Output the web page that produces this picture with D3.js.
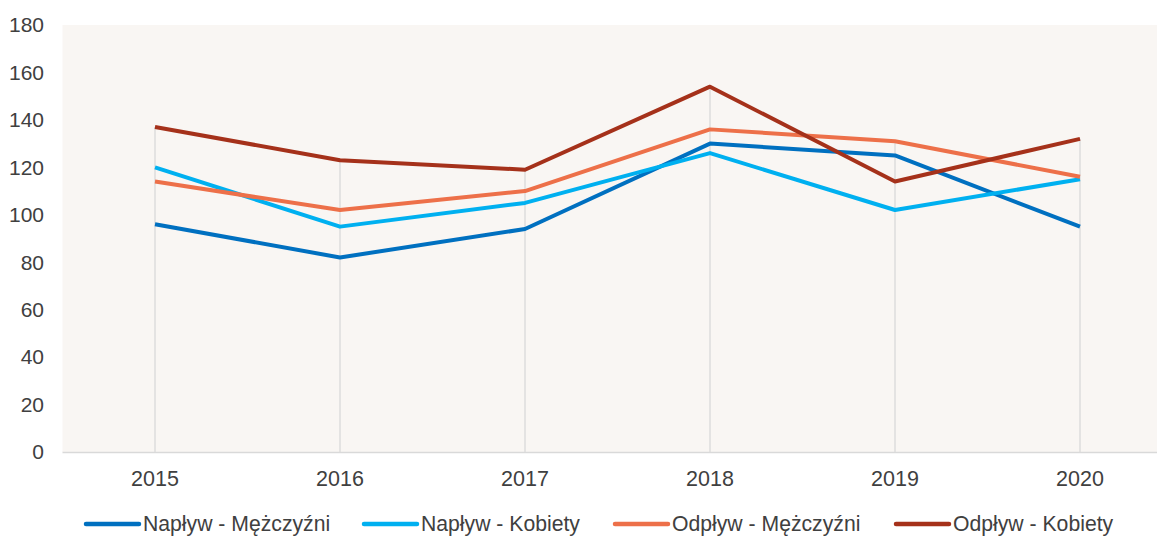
<!DOCTYPE html>
<html>
<head>
<meta charset="utf-8">
<script src="https://cdn.jsdelivr.net/npm/d3@7"></script>
<style>
  body { margin: 0; background: #fff; }
  svg text { font-family: "Liberation Sans", Arial, sans-serif; fill: #404040; }
</style>
</head>
<body>
<svg id="chart"></svg>
<script>
const width = 1157;
const height = 536;

const years = ["2015", "2016", "2017", "2018", "2019", "2020"];
const yTicks = [0, 20, 40, 60, 80, 100, 120, 140, 160, 180];

const seriesNames = ["Napływ - Mężczyźni", "Napływ - Kobiety", "Odpływ - Mężczyźni", "Odpływ - Kobiety"];
const napływM = [96, 82, 94, 130, 125, 95];
const napływK = [120, 95, 105, 126, 102, 115];
const odpływM = [114, 102, 110, 136, 131, 116];
const odpływK = [137, 123, 119, 154, 114, 132];
const seriesColors = ["#0070c0", "#00b0f0", "#ed7049", "#a5311a"];

const series = [napływM, napływK, odpływM, odpływK].map((values, i) => ({
    name: seriesNames[i],
    color: seriesColors[i],
    values: values
}));

const svg = d3.select("#chart")
    .attr("width", width)
    .attr("height", height);

const x = d3.scaleBand()
    .domain(years)
    .range([62.5, 1172.5]);

const y = d3.scaleLinear()
    .domain([0, 180])
    .range([452, 25]);

const cx = d => x(d) + x.bandwidth() / 2;

// plot background
svg.append("rect")
    .attr("x", x.range()[0])
    .attr("y", y(180))
    .attr("width", x.range()[1] - x.range()[0])
    .attr("height", y(0) - y(180))
    .attr("fill", "#f9f6f3");

// drop lines from highest point down to the axis
svg.append("g")
    .selectAll("line")
    .data(years)
    .enter().append("line")
    .attr("x1", d => cx(d))
    .attr("x2", d => cx(d))
    .attr("y1", (d, i) => y(d3.max(series, s => s.values[i])))
    .attr("y2", y(0))
    .attr("stroke", "#dcdcdc")
    .attr("stroke-width", 1.5);

// x axis line
svg.append("line")
    .attr("x1", x.range()[0])
    .attr("x2", width)
    .attr("y1", y(0) + 0.5)
    .attr("y2", y(0) + 0.5)
    .attr("stroke", "#d9d9d9")
    .attr("stroke-width", 1.5);

// y tick labels
svg.append("g")
    .selectAll("text")
    .data(yTicks)
    .enter().append("text")
    .attr("x", 44)
    .attr("y", d => y(d))
    .attr("dy", "0.35em")
    .attr("text-anchor", "end")
    .style("font-size", "21px")
    .text(d => d);

// x tick labels
svg.append("g")
    .selectAll("text")
    .data(years)
    .enter().append("text")
    .attr("x", d => cx(d))
    .attr("y", 478)
    .attr("dy", "0.35em")
    .attr("text-anchor", "middle")
    .style("font-size", "21.5px")
    .text(d => d);

const line = d3.line()
    .x((d, i) => cx(years[i]))
    .y(d => y(d));

svg.append("g")
    .selectAll("path")
    .data(series)
    .enter().append("path")
    .attr("d", d => line(d.values))
    .attr("fill", "none")
    .attr("stroke", d => d.color)
    .attr("stroke-width", 4)
    .attr("stroke-linejoin", "round");

// legend
const legendX = [86, 364, 615, 896];
const legend = svg.append("g")
    .selectAll("g")
    .data(series)
    .enter().append("g")
    .attr("transform", (d, i) => `translate(${legendX[i]}, 524)`);

legend.append("line")
    .attr("x1", 0)
    .attr("x2", 53)
    .attr("stroke", d => d.color)
    .attr("stroke-width", 4.5)
    .attr("stroke-linecap", "round");

legend.append("text")
    .attr("x", 57)
    .attr("dy", "0.35em")
    .style("font-size", "21.2px")
    .text(d => d.name);
</script>
</body>
</html>
